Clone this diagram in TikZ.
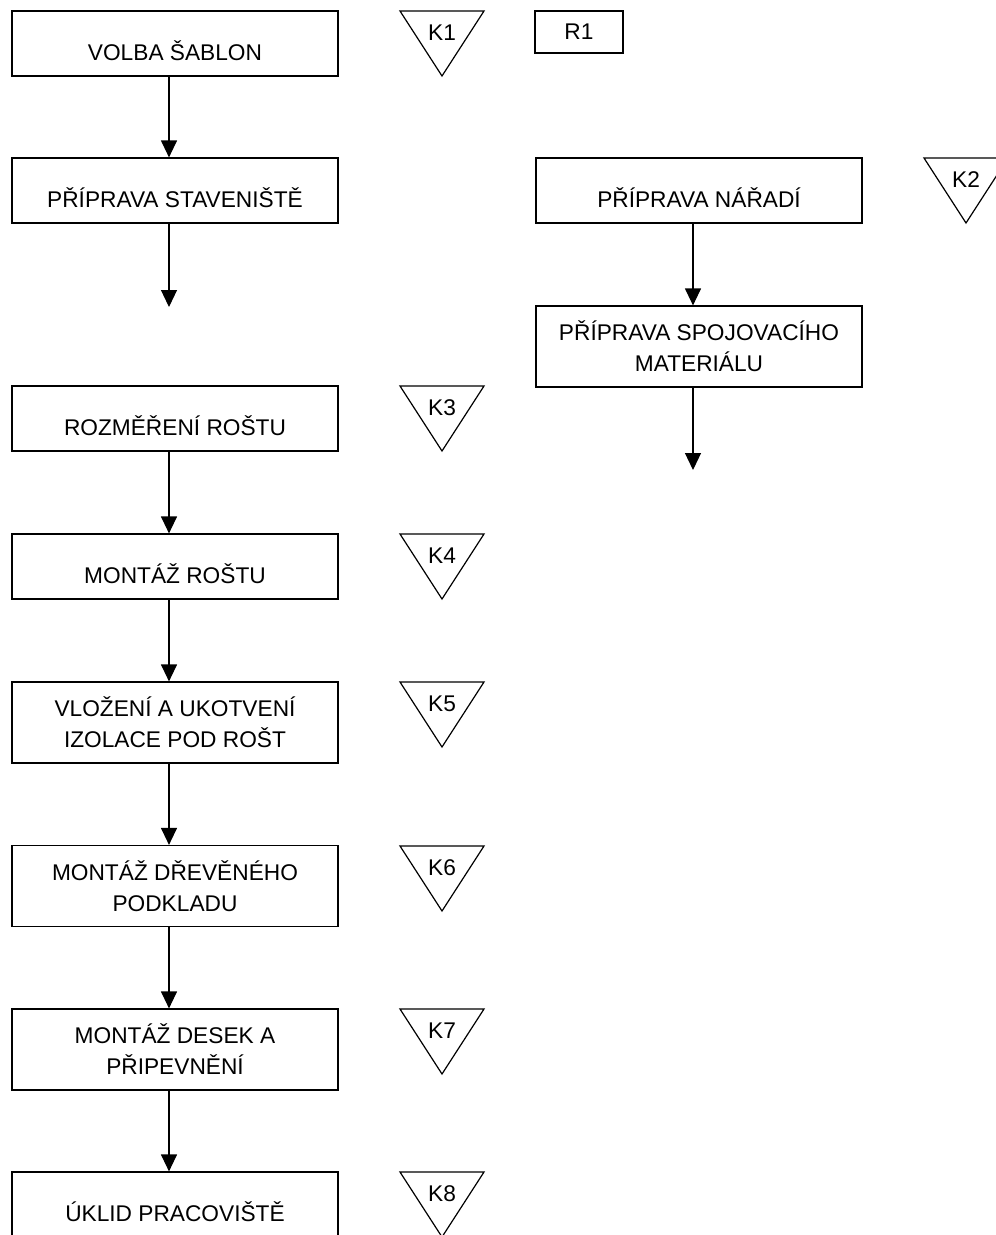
\documentclass[tikz,border=0pt]{standalone}
\usepackage{fontspec}
\setmainfont{Liberation Sans}
\usetikzlibrary{arrows.meta}

\begin{document}
\begin{tikzpicture}
[x=1pt,y=1pt,
  krok/.style={draw,line width=1.2pt,minimum width=326pt,minimum height=65pt,
    inner sep=0pt,text height=33pt,text depth=0pt},%
  krokdva/.style={draw,line width=1.2pt,minimum width=326pt,minimum height=81pt,
    inner sep=0pt,align=center},%
  sipka/.style={-{Triangle[width=16pt,length=17pt]},line width=1.2pt},%
  font=\fontsize{22.7}{31}\selectfont]
\useasboundingbox (0,0) rectangle (996,-1235);
%% left column
\node (volba) at (175,-43.5) [krok] {VOLBA ŠABLON};
\node (stav) at (175,-190.5) [krok] {PŘÍPRAVA STAVENIŠTĚ};
\node (rozmer) at (175,-418.5) [krok] {ROZMĚŘENÍ ROŠTU};
\node (rost) at (175,-566.5) [krok] {MONTÁŽ ROŠTU};
\node (izolace) at (175,-722.5) [krokdva] {VLOŽENÍ A UKOTVENÍ\\IZOLACE POD ROŠT};
\node (podklad) at (175,-886) [krokdva] {MONTÁŽ DŘEVĚNÉHO\\PODKLADU};
\node (desky) at (175,-1049.5) [krokdva] {MONTÁŽ DESEK A\\PŘIPEVNĚNÍ};
\node (uklid) at (175,-1204.5) [krok] {ÚKLID PRACOVIŠTĚ};
%% right column
\node (r1) at (579,-32) [draw,line width=1.2pt,minimum width=88pt,minimum height=42pt,
  inner sep=0pt] {R1};
\node (naradi) at (699,-190.5) [krok] {PŘÍPRAVA NÁŘADÍ};
\node (spoj) at (699,-346.5) [krokdva] {PŘÍPRAVA SPOJOVACÍHO\\MATERIÁLU};
\coordinate (stavkonec) at (169,-307);
\coordinate (spojkonec) at (693,-470);
%% control triangles
\foreach \nodename/\x/\y in {
  K1/442/-11, K2/966/-158, K3/442/-386, K4/442/-534,
  K5/442/-682, K6/442/-846, K7/442/-1009, K8/442/-1172}
{
  \draw[line width=1.2pt,line join=miter] (\x-42,\y) -- (\x+42,\y) -- (\x,\y-65) -- cycle;
  \node (\nodename) at (\x,\y-22) [inner sep=0pt] {\nodename};
}
%% arrows
\foreach \odkud/\kam in {
  volba/stav, rozmer/rost, rost/izolace, izolace/podklad,
  podklad/desky, desky/uklid, naradi/spoj}
{
  \draw[sipka] ([xshift=-6pt]\odkud.south) -- ([xshift=-6pt]\kam.north);
}
\draw[sipka] ([xshift=-6pt]stav.south) -- (stavkonec);
\draw[sipka] ([xshift=-6pt]spoj.south) -- (spojkonec);
\end{tikzpicture}
\end{document}
